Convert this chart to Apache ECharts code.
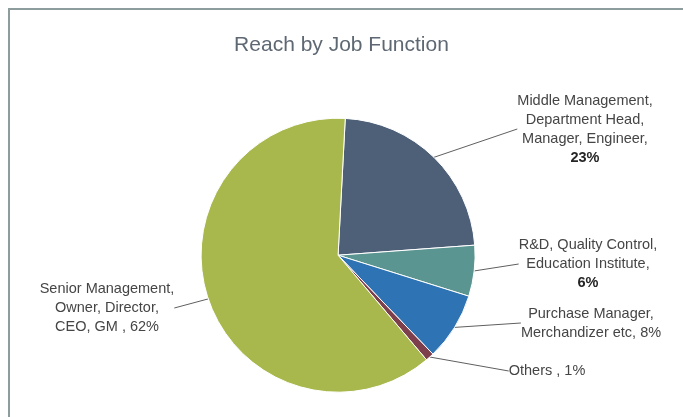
<!DOCTYPE html>
<html>
<head>
<meta charset="utf-8">
<script src="https://cdn.jsdelivr.net/npm/echarts@6/dist/echarts.min.js"></script>
<style>
  html, body { margin: 0; padding: 0; background: #ffffff; overflow: hidden; }
  #wrap { position: relative; width: 683px; height: 417px; overflow: hidden; }
  #frame { position: absolute; left: 8px; top: 8px; width: 700px; height: 430px; border: 2px solid #8d9c9c; box-sizing: border-box; }
  #chart { position: absolute; left: 0; top: 0; width: 683px; height: 417px; }
</style>
</head>
<body>
<div id="wrap">
  <div id="frame"></div>
  <div id="chart"></div>
</div>
<script>
// ---- data ----
const categories = [
  "Middle Management,\nDepartment Head,\nManager, Engineer",
  "R&D, Quality Control,\nEducation Institute",
  "Purchase Manager,\nMerchandizer etc",
  "Others",
  "Senior Management,\nOwner, Director,\nCEO, GM"
];
const shares = [23, 6, 8, 1, 62];
const boldPercent = [true, true, false, false, false];
const percentSeparators = [",\n", ",\n", ", ", " , ", " , "];
const titleText = "Reach by Job Function";

// ---- styles / layout (not data) ----
const sliceColors = ["#4e5f78", "#5b9592", "#2e74b4", "#7d3f4b", "#a9b84c"];
const labelCenters = [[585, 129], [588, 264], [591, 323], [547, 371], [107, 308]];
const FONT = 'Liberation Sans, Arial, sans-serif';

const chart = echarts.init(document.getElementById('chart'), null, { renderer: 'canvas' });

const pieData = categories.map((name, i) => ({
  name: name,
  value: shares[i],
  itemStyle: { color: sliceColors[i] }
}));

chart.setOption({
  backgroundColor: 'transparent',
  animation: false,
  title: {
    text: titleText,
    left: 'center',
    top: 30,
    textStyle: {
      fontFamily: FONT,
      fontSize: 21,
      fontWeight: 'normal',
      color: '#5e6873'
    }
  },
  series: [{
    type: 'pie',
    center: ['49.5%', '61.2%'],
    radius: 137,
    startAngle: 87,
    clockwise: true,
    avoidLabelOverlap: false,
    itemStyle: { borderColor: '#ffffff', borderWidth: 1 },
    label: {
      show: true,
      position: 'outside',
      fontFamily: FONT,
      fontSize: 14.5,
      lineHeight: 19,
      color: '#454545',
      formatter: function (p) {
        const i = p.dataIndex;
        const pct = shares[i] + '%';
        return categories[i] + percentSeparators[i] + (boldPercent[i] ? '{b|' + pct + '}' : pct);
      },
      rich: {
        b: {
          fontFamily: FONT,
          fontSize: 14.5,
          lineHeight: 19,
          fontWeight: 'bold',
          color: '#262626'
        }
      }
    },
    labelLine: {
      show: true,
      length: 15,
      length2: 0,
      lineStyle: { color: '#5f5f5f', width: 1 }
    },
    labelLayout: function (params) {
      const c = labelCenters[params.dataIndex];
      return { x: c[0], y: c[1], align: 'center', verticalAlign: 'middle' };
    },
    emphasis: { disabled: true },
    data: pieData
  }]
});
</script>
</body>
</html>
